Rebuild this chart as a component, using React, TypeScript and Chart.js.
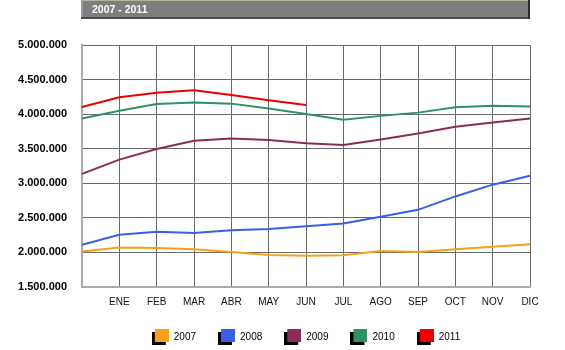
import React, { useEffect, useRef } from "react";
import { Chart, registerables } from "chart.js";

Chart.register(...registerables);

const TITLE = "2007 - 2011";
const MONTHS = ["", "ENE", "FEB", "MAR", "ABR", "MAY", "JUN", "JUL", "AGO", "SEP", "OCT", "NOV", "DIC"];
const SERIES_NAMES = ["2007", "2008", "2009", "2010", "2011"];
const SERIES_COLORS = ["#f7a11a", "#3b5ee8", "#8a2c5a", "#2f9263", "#ee0000"];
const V2007 = [2012000, 2070000, 2065000, 2046000, 2007000, 1964000, 1952000, 1960000, 2020000, 2007000, 2046000, 2083000, 2118000];
const V2008 = [2112000, 2256000, 2300000, 2280000, 2320000, 2338000, 2380000, 2420000, 2515000, 2616000, 2810000, 2980000, 3110000];
const V2009 = [3136000, 3342000, 3496000, 3615000, 3648000, 3627000, 3580000, 3553000, 3634000, 3720000, 3817000, 3879000, 3936000];
const V2010 = [3936000, 4050000, 4147000, 4170000, 4152000, 4080000, 4002000, 3920000, 3975000, 4022000, 4100000, 4123000, 4109000];
const V2011 = [4104000, 4244000, 4310000, 4345000, 4277000, 4200000, 4133000, null, null, null, null, null, null];
const Y_MIN = 1500000;
const Y_MAX = 5000000;
const Y_STEP = 500000;

const fmt = (n: number) => String(Math.round(n)).replace(/\B(?=(\d{3})+(?!\d))/g, ".");

function legendSwatch(color: string): HTMLCanvasElement {
  const c = document.createElement("canvas");
  c.width = 17;
  c.height = 16;
  const ctx = c.getContext("2d")!;
  ctx.fillStyle = "#000000";
  ctx.fillRect(0, 3, 14, 13);
  ctx.fillStyle = color;
  ctx.fillRect(3, 0, 14, 13);
  return c;
}

const titleBar = {
  id: "titleBar",
  beforeDraw(chart: any) {
    const { ctx, chartArea } = chart;
    const x0 = chartArea.left - 1;
    const x1 = chartArea.right;
    ctx.save();
    ctx.fillStyle = "#7e7e7e";
    ctx.fillRect(x0, 0, x1 - x0, 19);
    ctx.fillStyle = "#b8b2a0";
    ctx.fillRect(x0, 0, x1 - x0, 1);
    ctx.fillStyle = "#9a9a9a";
    ctx.fillRect(x0, 0, 2, 19);
    ctx.fillStyle = "#4a4a4a";
    ctx.fillRect(x0, 17, x1 - x0, 2);
    ctx.fillStyle = "#2e2e2e";
    ctx.fillRect(x1 - 2, 0, 2, 19);
    ctx.fillStyle = "#ffffff";
    ctx.font = 'bold 10.5px "Liberation Sans", Arial, sans-serif';
    ctx.textBaseline = "middle";
    ctx.textAlign = "left";
    ctx.fillText(TITLE, x0 + 11, 10);
    ctx.restore();
  },
};

export default function App() {
  const ref = useRef<HTMLCanvasElement>(null);
  useEffect(() => {
    document.body.style.margin = "0";
    const values = [V2007, V2008, V2009, V2010, V2011];
    const chart = new Chart(ref.current!, {
      type: "line",
      data: {
        labels: MONTHS,
        datasets: SERIES_NAMES.map((name, i) => ({
          label: name,
          data: values[i],
          borderColor: SERIES_COLORS[i],
          backgroundColor: SERIES_COLORS[i],
          borderWidth: 2,
          pointRadius: 0,
          pointStyle: legendSwatch(SERIES_COLORS[i]) as any,
          tension: 0,
          fill: false,
        })),
      },
      options: {
        animation: false,
        responsive: false,
        devicePixelRatio: 1,
        layout: { padding: { left: 0, right: 35, top: 45, bottom: -2 } },
        plugins: {
          tooltip: { enabled: false },
          title: { display: false },
          legend: {
            position: "bottom",
            fullSize: false,
            labels: {
              usePointStyle: true,
              pointStyleWidth: 17,
              boxHeight: 10,
              padding: 22,
              color: "#000000",
              font: { family: '"Liberation Sans", Arial, sans-serif', size: 10 },
            },
          },
        },
        scales: {
          x: {
            offset: false,
            grid: { color: "#6a6a6a", lineWidth: 1, drawTicks: false },
            border: { color: "#aaaaaa", width: 2 },
            ticks: {
              autoSkip: false,
              maxRotation: 0,
              padding: 9,
              color: "#111111",
              font: { family: '"Liberation Sans", Arial, sans-serif', size: 10 },
            },
            afterFit: (s: any) => {
              s.height = 23;
            },
          },
          y: {
            min: Y_MIN,
            max: Y_MAX,
            grid: { color: "#6a6a6a", lineWidth: 1, drawTicks: false },
            border: { color: "#aaaaaa", width: 2 },
            ticks: {
              stepSize: Y_STEP,
              padding: 15,
              color: "#000000",
              font: { family: '"Liberation Sans", Arial, sans-serif', size: 11, weight: "bold" },
              callback: (v: any) => fmt(Number(v)),
            },
            afterFit: (s: any) => {
              s.width = 82;
            },
          },
        },
      },
      plugins: [titleBar],
    });
    return () => chart.destroy();
  }, []);
  return (
    <div style={{ width: 565, height: 350 }}>
      <canvas ref={ref} width={565} height={350} style={{ display: "block" }} />
    </div>
  );
}
